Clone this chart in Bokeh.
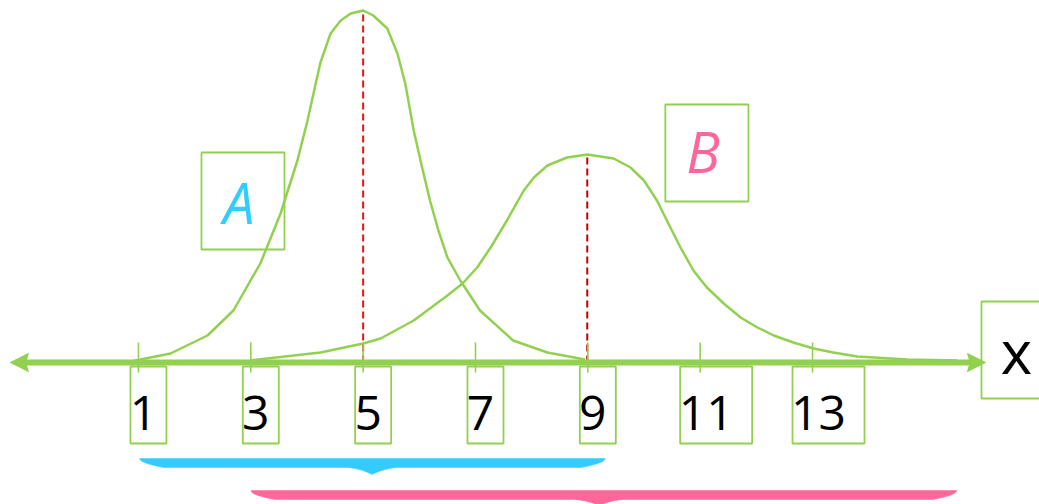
import numpy as np
from bokeh.plotting import figure
from bokeh.models import Range1d
from bokeh.core.properties import value
from bokeh.embed import file_html
from bokeh.resources import INLINE

# ---- data ----
ticks = [1, 3, 5, 7, 9, 11, 13]
tick_labels = ["1", "3", "5", "7", "9", "11", "13"]

curve_a_x = [0.86, 1.57, 2.23, 2.69, 3.17, 3.53, 3.83, 4.01, 4.12, 4.24, 4.42, 4.60, 4.78,
             5.00, 5.18, 5.43, 5.61, 5.75, 5.90, 6.05, 6.19, 6.34, 6.50, 6.73, 7.08, 7.67,
             8.28, 8.95]
curve_a_y = [1, 9, 27, 52, 99, 149, 202, 242, 270, 300, 329, 342, 349,
             352, 347, 334, 309, 279, 232, 195, 162, 132, 105, 82, 52, 22,
             10, 3]

curve_b_x = [2.99, 4.24, 5.00, 5.31, 5.90, 6.50, 6.77, 7.03, 7.27, 7.56, 7.86, 8.04,
             8.28, 8.63, 8.99, 9.46, 9.76, 10.00, 10.23, 10.47, 10.65, 10.88, 11.12,
             11.42, 11.72, 12.02, 12.31, 12.66, 13.02, 13.37, 13.80, 14.69, 15.58]
curve_b_y = [2, 10, 19, 24, 42, 67, 79, 95, 115, 142, 172, 185,
             197, 205, 208, 204, 195, 182, 162, 135, 115, 92, 75,
             59, 45, 35, 27, 20, 14, 10, 6, 3, 2]

axis_extent = [-1.28, 16.08]
brace_a = [1.02, 9.31, 5.16]    # start, end, tip
brace_b = [3.0, 15.57, 9.2]

GREEN = "#92D050"
BLUE = "#33CCFF"
PINK = "#FF6699"
PXU = 56.17  # pixels per x unit (for screen-size shapes)

p = figure(width=1039, height=504, x_range=Range1d(-1.456, 17.041),
           y_range=Range1d(-142, 362), x_axis_type=None, y_axis_type=None,
           toolbar_location=None, output_backend="svg", min_border=0)
p.grid.visible = False
p.outline_line_color = None
p.background_fill_color = "white"
p.border_fill_color = "white"

# curves
p.line(curve_a_x, curve_a_y, line_color=GREEN, line_width=2.5, line_join="round")
p.line(curve_b_x, curve_b_y, line_color=GREEN, line_width=2.5, line_join="round")

# dashed lines at the peaks
ia = int(np.argmax(curve_a_y))
ib = int(np.argmax(curve_b_y))
p.segment(x0=[curve_a_x[ia]], y0=[0], x1=[curve_a_x[ia]], y1=[curve_a_y[ia]],
          line_color="#EE1111", line_width=2, line_dash="7 4")
p.segment(x0=[curve_b_x[ib]], y0=[0], x1=[curve_b_x[ib]], y1=[curve_b_y[ib]],
          line_color="#C00000", line_width=2, line_dash="7 4")

# axis line with arrows
hl = 18 / PXU
p.segment(x0=[axis_extent[0] + hl * 0.8], y0=[0], x1=[axis_extent[1] - hl * 0.8], y1=[0],
          line_color=GREEN, line_width=6)
xl, xr = axis_extent
p.patches(xs=[[xl, xl + hl, xl + hl * 0.85, xl + hl], [xr, xr - hl, xr - hl * 0.85, xr - hl]],
          ys=[[0, 9, 0, -9], [0, 9, 0, -9]], fill_color=GREEN, line_color=GREEN, line_width=1)

# ticks
p.segment(x0=ticks, y0=[-10] * len(ticks), x1=ticks, y1=[20] * len(ticks),
          line_color=GREEN, line_width=1.6)

# tick label boxes and texts
lefts, rights, tx = [], [], []
for t, lab in zip(ticks, tick_labels):
    if len(lab) == 1:
        lefts.append(t - 8 / PXU); rights.append(t + 28 / PXU)
        tx.append(t + 5 / PXU)
    else:
        lefts.append(t - 20 / PXU); rights.append(t + 52 / PXU)
        tx.append(t + 6 / PXU)
p.quad(left=lefts, right=rights, top=[-4] * len(ticks), bottom=[-81] * len(ticks),
       fill_color=None, line_color=GREEN, line_width=1.8)
p.text(x=tx, y=[-50] * len(ticks), text=tick_labels, text_align="center",
       text_baseline="alphabetic", text_font=value("Open Sans"), text_font_size="48px",
       text_color="black")

# x label box
p.quad(left=[16.008], right=[17.4], top=[61], bottom=[-36],
       fill_color=None, line_color=GREEN, line_width=1.8)
p.text(x=[16.63], y=[12], text=["x"], text_align="center", text_baseline="alphabetic",
       text_font=value("Open Sans"), text_font_size="60px", text_color="black")

# A and B labels
p.quad(left=[2.122, 10.38], right=[3.60, 11.86], top=[210, 258], bottom=[113, 161],
       fill_color=None, line_color=GREEN, line_width=1.8)
p.text(x=[2.79, 11.05], y=[161, 212], text=["A", "B"], text_align="center",
       text_baseline="alphabetic", text_font=value("Open Sans"), text_font_size="56px",
       text_font_style="italic", text_color=[BLUE, PINK])


def brace_shape(x0, x1, xc, ytop, thick, depth):
    end_r = 24 / PXU
    mid_r = 28 / PXU
    xs_top = [x0, x1]
    ys_top = [ytop, ytop]
    xb = np.linspace(x1, x0, 600)
    yb = []
    for x in xb:
        d_end = min(x - x0, x1 - x)
        f = min(max(d_end, 0) / end_r, 1.0) ** 0.5
        y = ytop - thick * f
        dc = abs(x - xc)
        if dc < mid_r:
            y -= depth * (1 - dc / mid_r) ** 2
        yb.append(y)
    return xs_top + list(xb), ys_top + yb


bx, by = brace_shape(brace_a[0], brace_a[1], brace_a[2], -96, 9, 7)
p.patch(bx, by, fill_color=BLUE, line_color=BLUE, line_width=0.5)
bx, by = brace_shape(brace_b[0], brace_b[1], brace_b[2], -128, 9, 6)
p.patch(bx, by, fill_color=PINK, line_color=PINK, line_width=0.5)

open("out.html", "w").write(file_html(p, INLINE))
